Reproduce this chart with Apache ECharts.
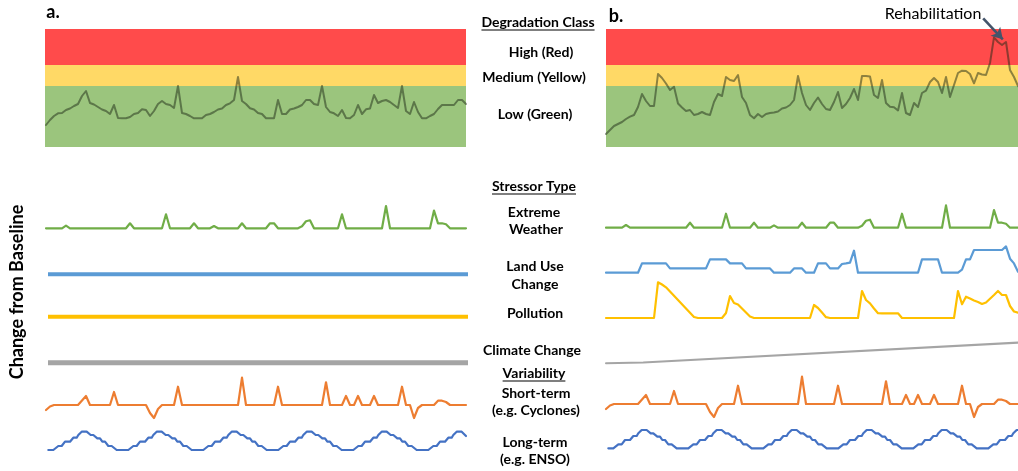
<!DOCTYPE html>
<html><head><meta charset="utf-8">
<script src="https://cdn.jsdelivr.net/npm/echarts@6/dist/echarts.min.js"></script>
<style>html,body{margin:0;padding:0;background:#fff}#c{width:1018px;height:471px}</style>
</head><body><div id="c"></div>
<script>
// ---------- DATA ----------
// Degradation class thresholds (condition score), Low / Medium / High
const classBounds = [0, 61, 82, 118];
const classNames = ['Low (Green)', 'Medium (Yellow)', 'High (Red)'];

// Degradation condition (time steps 0..105)
const degradationA = [22,27,31,33.7,34,37,38.5,41,43,51,56,44,42.5,40,37.5,36,33,42,29,28.7,
  28.7,30,33,34,37.7,37,31,36,43,46,43,42,39,61,34,33,31,28.7,28.7,28.7,
  32,33,35,37.5,38.5,42,43.7,47,70,46,43,38.7,37.5,34,33,28.7,28.7,28.7,47,33,
  33,37.5,38.5,40,42,47,47,43,42,61,40,35,33.7,31,37,29,28.7,32,42,33,
  37.7,38.5,52,44,46,47,45,42,39,61,36,33,45,35,28.7,28.7,31,33,38,42,
  42,42,42,47,47,43];
const degradationB = [13,17,21,23,25,28,30.3,32,40,53,46,41,41,73,69,63.5,57,60.3,43.5,39.5,
  36,37,32,33,35,33,32,45,53,51,70,67,66,72,50,44,32,28.7,33,30,
  33,34,34.5,35.5,38.5,39.5,42,47,71,54,42,37,44,49.5,43,38,37,45,55,39,
  43,49,58,47,71,71,70.5,52,49,67,44,40.3,39.7,36.5,54,34,32,44,40,54,
  56.3,65,69,65,54,70,50,62,74,76.3,76,73,63.7,74,72.5,72,84,109.7,105,102,
  105,77,70,61,56,53];

// Stressors (change from baseline)
const extremeWeather = [0,0,0,0,0,2.7,0,0,0,0,0,0,0,0,0,0,0,0,0,0,
  0,5,0,0,0,0,0,0,0,0,14,0,0,0,0,0,0,5,0,0,
  0,0,2.3,0,0,0,0,0,0,5,0,0,0,0,0,0,5,5,0,0,
  0,0,0,0,2,7,8,0,0,0,0,0,0,0,14,0,0,0,0,0,
  0,0,0,0,0,22.3,0,0,0,0,0,0,0,0,0,0,0,17.7,5,5,
  4,0,0,0,0,0];
const landUseB = [0,0,0,0,0,0,0,0,0,9.3,9.3,9.3,9.3,9.3,9.3,9.3,4.3,4.3,4.3,4.3,
  4.3,4.3,4.3,4.3,4.3,4.3,13.3,13.3,13.3,13.3,13.3,9.3,9.3,9.3,9.3,4.3,4.3,4.3,4.3,4.3,
  4.3,4.3,0,0,0,0,0,4.3,4.3,4.3,0,0,0,9.3,9.3,9.3,4.3,4.3,4.3,8.7,
  9.3,10,22,0,0,0,0,0,0,0,0,0,0,0,0,0,0,0,0,13.3,
  13.3,13.3,13.3,13.3,0,0,0,0,0,3,13.3,13.3,22.7,22.7,22.7,22.7,22.7,22.7,22.7,22.7,
  26.3,14,9.3,1,0,0];
const pollutionB = [0,0,0,0,0,0,0,0,0,0,0,0,0,35.7,33.5,30.7,26.5,22.2,18,13.8,
  9.5,5.3,1,0,0,0,0,0,0,0,5,22,15,13.5,9.5,5.5,1.5,0,0,0,
  0,0,0,0,0,0,0,0,0,0,0,0,13,10,5.5,0.8,0,0,0,0,
  0,0,0,0,27,18,14.7,9.5,4.8,4.7,4.7,4.7,4.7,4.7,0,0,0,0,0,0,
  0,0,0,0,0,0,0,0,27,13.7,21.3,19.5,17.5,16,14,15.5,19.3,23,27,23,
  23,12,6.5,5.3,5,5];
const climateBTime = [0, 9.3, 105];
const climateBValue = [0, 0.7, 21.1];
const steadyTime = [0.5, 105.5];
const landUseA = [0, 0];
const pollutionA = [0, 0];
const climateA = [0, 0];
const shortTerm = [-5,-1.5,0,0,0,0,0,0,0,4.5,9,0,0,0,0,0,0,13,0,0,
  0,0,0,0,0,0,-8,-13,-4,0,0,0,0,18.3,0,0,0,0,0,0,
  0,0,0,0,0,0,0,0,0,27.3,0,0,0,0,0,0,0,0,18.3,0,
  0,0,0,0,0,0,0,0,0,0,22.7,0,0,0,0,9,0,0,9,0,
  0,0,9,0,0,0,0,0,0,18.3,0,0,-13,-3,0,0,0,0,4.3,4.3,
  3,0,0,0,0,0];
const ensoTime = [0.58,1.83,3.08,3.92,4.75,6.00,6.83,7.67,8.08,8.92,10.17,11.17,11.83,12.83,13.50,14.08,14.75,15.58,16.42,
  17.67,20.58,21.83,22.67,23.50,24.75,25.58,26.42,26.83,27.67,28.92,29.92,30.58,31.58,32.25,32.83,33.50,34.33,35.17,
  36.42,39.33,40.58,41.42,42.25,43.50,44.33,45.17,45.58,46.42,47.67,48.67,49.33,50.33,51.00,51.58,52.25,53.08,53.92,
  55.17,58.08,59.33,60.17,61.00,62.25,63.08,63.92,64.33,65.17,66.42,67.42,68.08,69.08,69.75,70.33,71.00,71.83,72.67,
  73.92,76.83,78.08,78.92,79.75,81.00,81.83,82.67,83.08,83.92,85.17,86.17,86.83,87.83,88.50,89.08,89.75,90.58,91.42,
  92.67,95.58,96.83,97.67,98.50,99.75,100.58,101.42,101.83,102.67,103.92,105.0];
const ensoValue = [0,0,4,4,8.3,8.3,12.3,12.3,15,18.3,18.3,15,15,11.7,11.7,8.3,8.3,4,4,
  0,0,4,4,8.3,8.3,12.3,12.3,15,18.3,18.3,15,15,11.7,11.7,8.3,8.3,4,4,
  0,0,4,4,8.3,8.3,12.3,12.3,15,18.3,18.3,15,15,11.7,11.7,8.3,8.3,4,4,
  0,0,4,4,8.3,8.3,12.3,12.3,15,18.3,18.3,15,15,11.7,11.7,8.3,8.3,4,4,
  0,0,4,4,8.3,8.3,12.3,12.3,15,18.3,18.3,15,15,11.7,11.7,8.3,8.3,4,4,
  0,0,4,4,8.3,8.3,12.3,12.3,15,18.3,18.3,14];
// Rehabilitation arrow (time step, condition score)
const rehabArrow = [[94.3, 128.7], [99.2, 107.7]];

// ---------- LAYOUT / STYLE ----------
const X_MIN = -1, X_MAX = 106, PLOT_W = 428;
const panelLeft = {a: 42, b: 602};
const bandExtent = {a: [-0.25, 105], b: [0, 106]};
const rowBaseA = [228.3, 274.3, 316.7, 362.7, 405, 450];
const rowBaseB = [227.7, 272.7, 318, 363.3, 404, 448.3];
const bandColors = ['#9BC57D', '#FFD966', '#FF4B4B'];
const C = {ew:'#70AD47', lu:'#5B9BD5', po:'#FFC000', cc:'#A5A5A5', st:'#ED7D31', en:'#4472C4'};
const FONT = 'Lato, "Open Sans", sans-serif';

const grids = [], xAxes = [], yAxes = [], series = [];
function addGrid(left, top, height, ymin, ymax) {
  grids.push({left: left, top: top, width: PLOT_W, height: height, show: false,
    containLabel: false, outerBoundsMode: 'none'});
  const gi = grids.length - 1;
  xAxes.push({type: 'value', gridIndex: gi, min: X_MIN, max: X_MAX, show: false});
  yAxes.push({type: 'value', gridIndex: gi, min: ymin, max: ymax, show: false});
  return gi;
}
function indexed(v) { return v.map((y, k) => [k, y]); }
function paired(t, v) { return v.map((y, k) => [t[k], y]); }
function line(gi, data, color, width, extra) {
  return Object.assign({
    type: 'line', xAxisIndex: gi, yAxisIndex: gi, data: data, symbol: 'none', showSymbol: false,
    clip: false, silent: true, animation: false, z: 3,
    lineStyle: {color: color, width: width, cap: 'round', join: 'round'}
  }, extra || {});
}

function buildPanel(key) {
  const left = panelLeft[key];
  const gi = addGrid(left, 0, 147, 0, 147);
  const ext = bandExtent[key];
  series.push({
    type: 'line', xAxisIndex: gi, yAxisIndex: gi, data: [[ext[0], 0]], symbol: 'none', silent: true, z: 1,
    lineStyle: {width: 0}, animation: false,
    markArea: {silent: true, animation: false, data: classNames.map((n, k) => [
      {name: '', xAxis: ext[0], yAxis: classBounds[k], itemStyle: {color: bandColors[k], opacity: 1}},
      {xAxis: ext[1], yAxis: classBounds[k + 1]}
    ])}
  });
  const deg = key === 'a' ? degradationA : degradationB;
  const extra = {};
  if (key === 'b') {
    extra.markLine = {
      silent: true, animation: false, symbol: ['none', 'arrow'], symbolSize: [10, 11],
      label: {show: false},
      lineStyle: {color: '#44546A', width: 2.6, type: 'solid'},
      data: [[{coord: rehabArrow[0]}, {coord: rehabArrow[1]}]]
    };
  }
  series.push(line(gi, indexed(deg), 'rgba(30,42,22,0.5)', 2, extra));

  const bases = key === 'a' ? rowBaseA : rowBaseB;
  const rows = bases.map(b => addGrid(left, b - 40, 55, -15, 40));
  series.push(line(rows[0], indexed(extremeWeather), C.ew, 2.2));
  if (key === 'a') {
    series.push(line(rows[1], paired(steadyTime, landUseA), C.lu, 4, {lineStyle: {color: C.lu, width: 4, cap: 'butt'}}));
    series.push(line(rows[2], paired(steadyTime, pollutionA), C.po, 4, {lineStyle: {color: C.po, width: 4, cap: 'butt'}}));
    series.push(line(rows[3], paired(steadyTime, climateA), C.cc, 5, {lineStyle: {color: C.cc, width: 5, cap: 'butt'}}));
  } else {
    series.push(line(rows[1], indexed(landUseB), C.lu, 2.2));
    series.push(line(rows[2], indexed(pollutionB), C.po, 2.2));
    series.push(line(rows[3], paired(climateBTime, climateBValue), C.cc, 2));
  }
  series.push(line(rows[4], indexed(shortTerm), C.st, 2.2));
  series.push(line(rows[5], paired(ensoTime, ensoValue), C.en, 2.2));
}
buildPanel('a');
buildPanel('b');

// Centre labels
const labels = [
  ['Degradation Class', 538, 22, true], [classNames[2], 541, 52], [classNames[1], 534, 77], [classNames[0], 535, 114],
  ['Stressor Type', 534, 186, true], ['Extreme', 534, 212], ['Weather', 536, 229],
  ['Land Use', 535, 266], ['Change', 535, 284], ['Pollution', 535, 313], ['Climate Change', 532, 350],
  ['Variability', 534, 373, true], ['Short-term', 536, 393], ['(e.g. Cyclones)', 536, 410],
  ['Long-term', 535, 442], ['(e.g. ENSO)', 535, 459]
];
const LBL_FONT = 'bold 14px ' + FONT;
const mctx = document.createElement('canvas').getContext('2d');
mctx.font = LBL_FONT;
function txt(t, x, y, font, extra) {
  return Object.assign({type: 'text', x: x, y: y, silent: true, z: 10,
    style: {text: t, font: font, fill: '#000', textAlign: 'center', align: 'center', textVerticalAlign: 'middle', verticalAlign: 'middle'}}, extra || {});
}
const graphic = [];
labels.forEach(l => {
  graphic.push(txt(l[0], l[1], l[2], LBL_FONT));
  if (l[3]) {
    const w = mctx.measureText(l[0]).width;
    graphic.push({type: 'line', silent: true, z: 10,
      shape: {x1: l[1] - w / 2, y1: l[2] + 8, x2: l[1] + w / 2, y2: l[2] + 8},
      style: {stroke: '#000', lineWidth: 1.1}});
  }
});
graphic.push(txt('a.', 53, 12, 'bold 18px ' + FONT));
graphic.push(txt('b.', 616, 16, 'bold 18px ' + FONT));
graphic.push(txt('Rehabilitation', 933, 14, '16px ' + FONT));
graphic.push(txt('Change from Baseline', 17, 292, 'bold 18px ' + FONT, {rotation: Math.PI / 2}));

const chart = echarts.init(document.getElementById('c'), null, {renderer: 'canvas', width: 1018, height: 471});
chart.setOption({
  animation: false,
  backgroundColor: '#ffffff',
  grid: grids, xAxis: xAxes, yAxis: yAxes, series: series, graphic: graphic
});
</script>
</body></html>
